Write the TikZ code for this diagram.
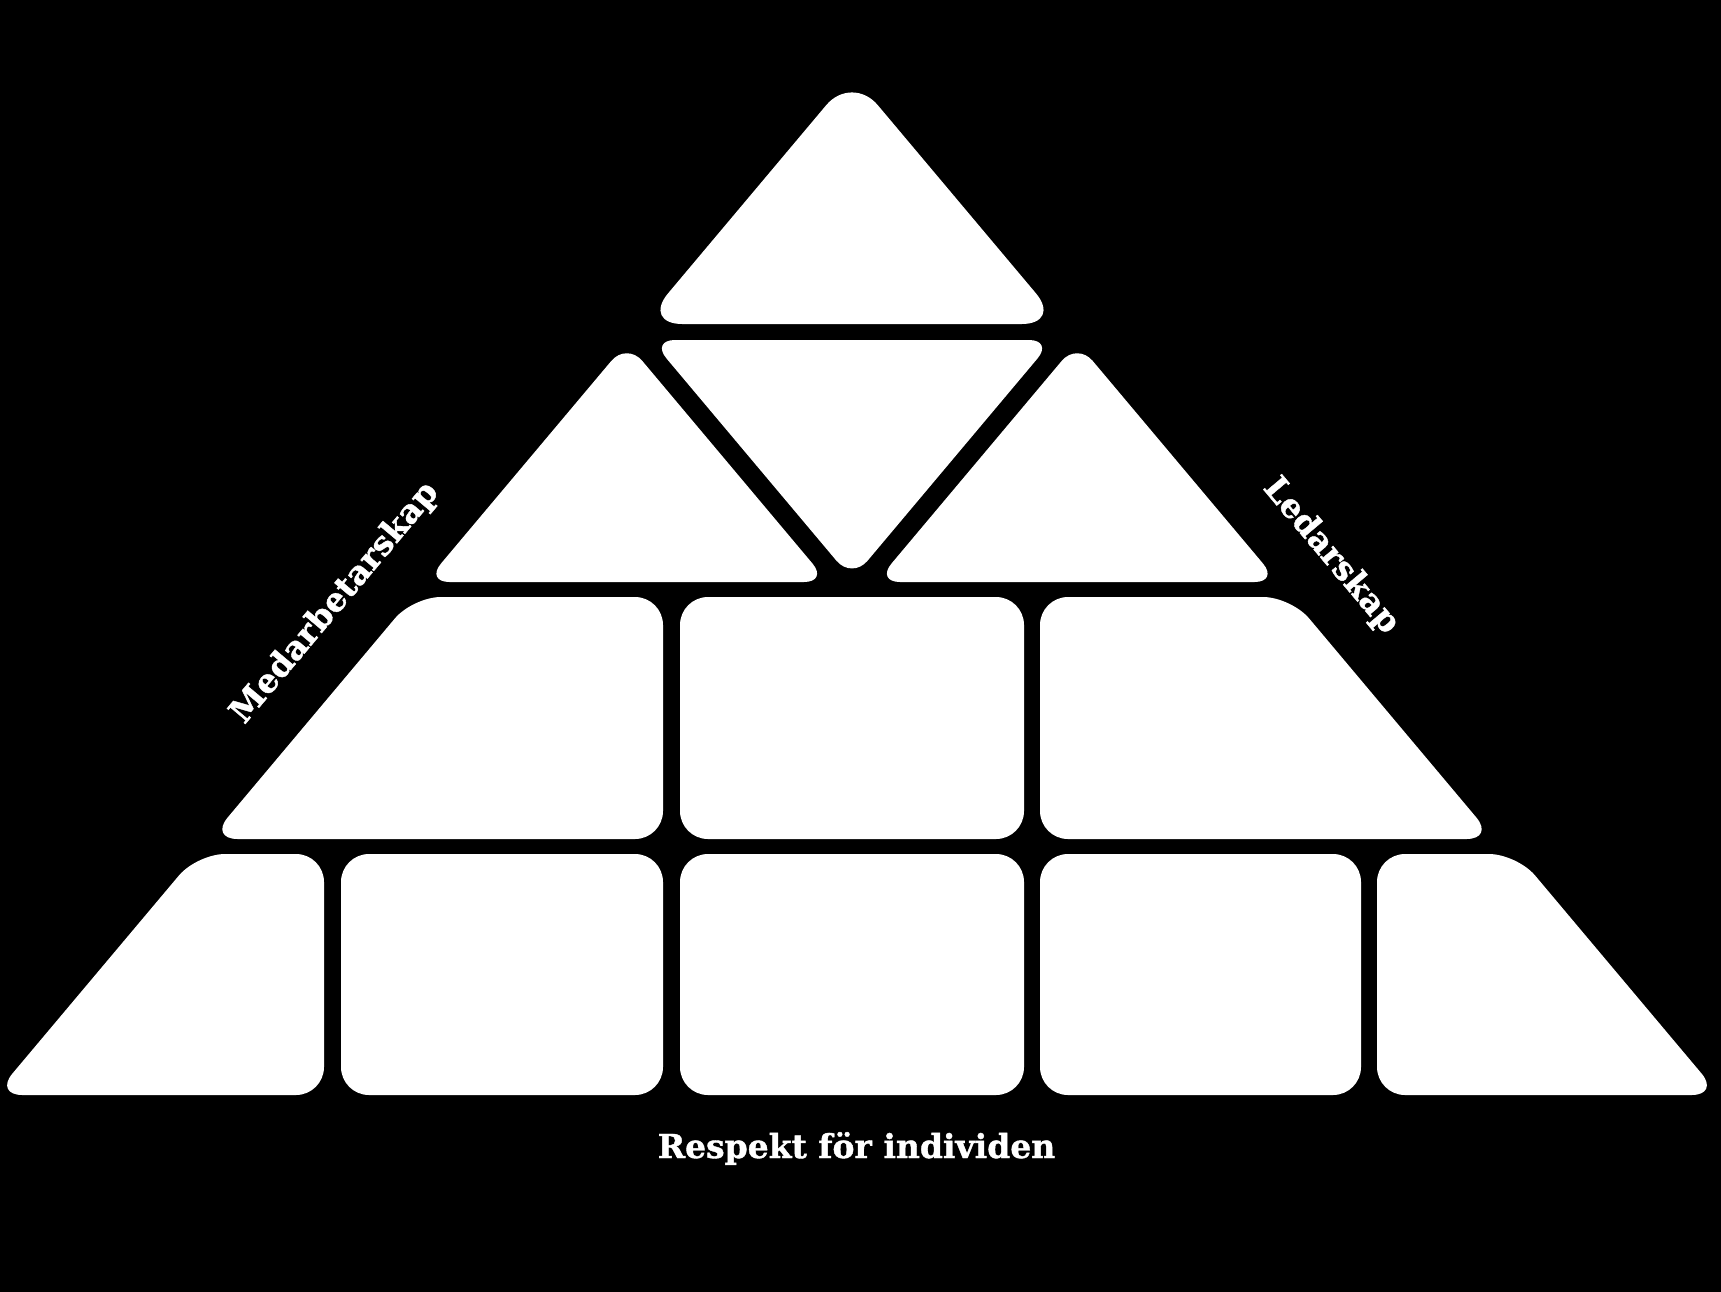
\documentclass[tikz,border=0pt]{standalone}
\usepackage{fontspec}
\setmainfont{DejaVu Serif}
\newfontfamily\labfont{DejaVu Serif}[UprightFont={* Bold},UprightFeatures={FakeBold=1.2}]
\begin{document}
\begin{tikzpicture}[x=1pt,y=-1pt,
  piece/.style={fill=white,draw=none},
  tri/.style={piece,rounded corners=24pt},
  toptri/.style={piece,rounded corners=40pt},
  block/.style={piece,rounded corners=28pt},
  label/.style={text=white,font=\fontsize{33}{40}\labfont,inner sep=0pt}]
\useasboundingbox (0,0) rectangle (1721,1291);
\fill[black] (-20,-20) rectangle (1741,1311);
% row 1
\fill[toptri] (852,74.5) -- (1061.7,324) -- (642.3,324) -- cycle;
% row 2
\fill[tri] (651,340) -- (1053,340) -- (852,579.2) -- cycle;
\fill[tri] (626.8,342.5) -- (828,582) -- (425.5,582) -- cycle;
\fill[tri] (1077.2,342.5) -- (1278.5,582) -- (876,582) -- cycle;
% row 3
\fill[block] (412.9,597) -- (663,597) -- (663,839) -- (209.6,839) -- cycle;
\fill[block] (680,597) rectangle (1024,839);
\fill[block] (1040,597) -- (1291.1,597) -- (1494.4,839) -- (1040,839) -- cycle;
% row 4
\fill[block] (197,854) -- (324,854) -- (324,1095) -- (-5.6,1095) -- cycle;
\fill[block] (341,854) rectangle (663,1095);
\fill[block] (680,854) rectangle (1024,1095);
\fill[block] (1040,854) rectangle (1361,1095);
\fill[block] (1377,854) -- (1517,854) -- (1719.6,1095) -- (1377,1095) -- cycle;
% labels
\node[label,anchor=base] (respekt) at (856.5,1158) {Respekt för individen};
\node[label,rotate=50] (medarb) at (335,603) {Medarbetarskap};
\node[label,rotate=-50] (ledar) at (1331,556) {Ledarskap};
\end{tikzpicture}
\end{document}
